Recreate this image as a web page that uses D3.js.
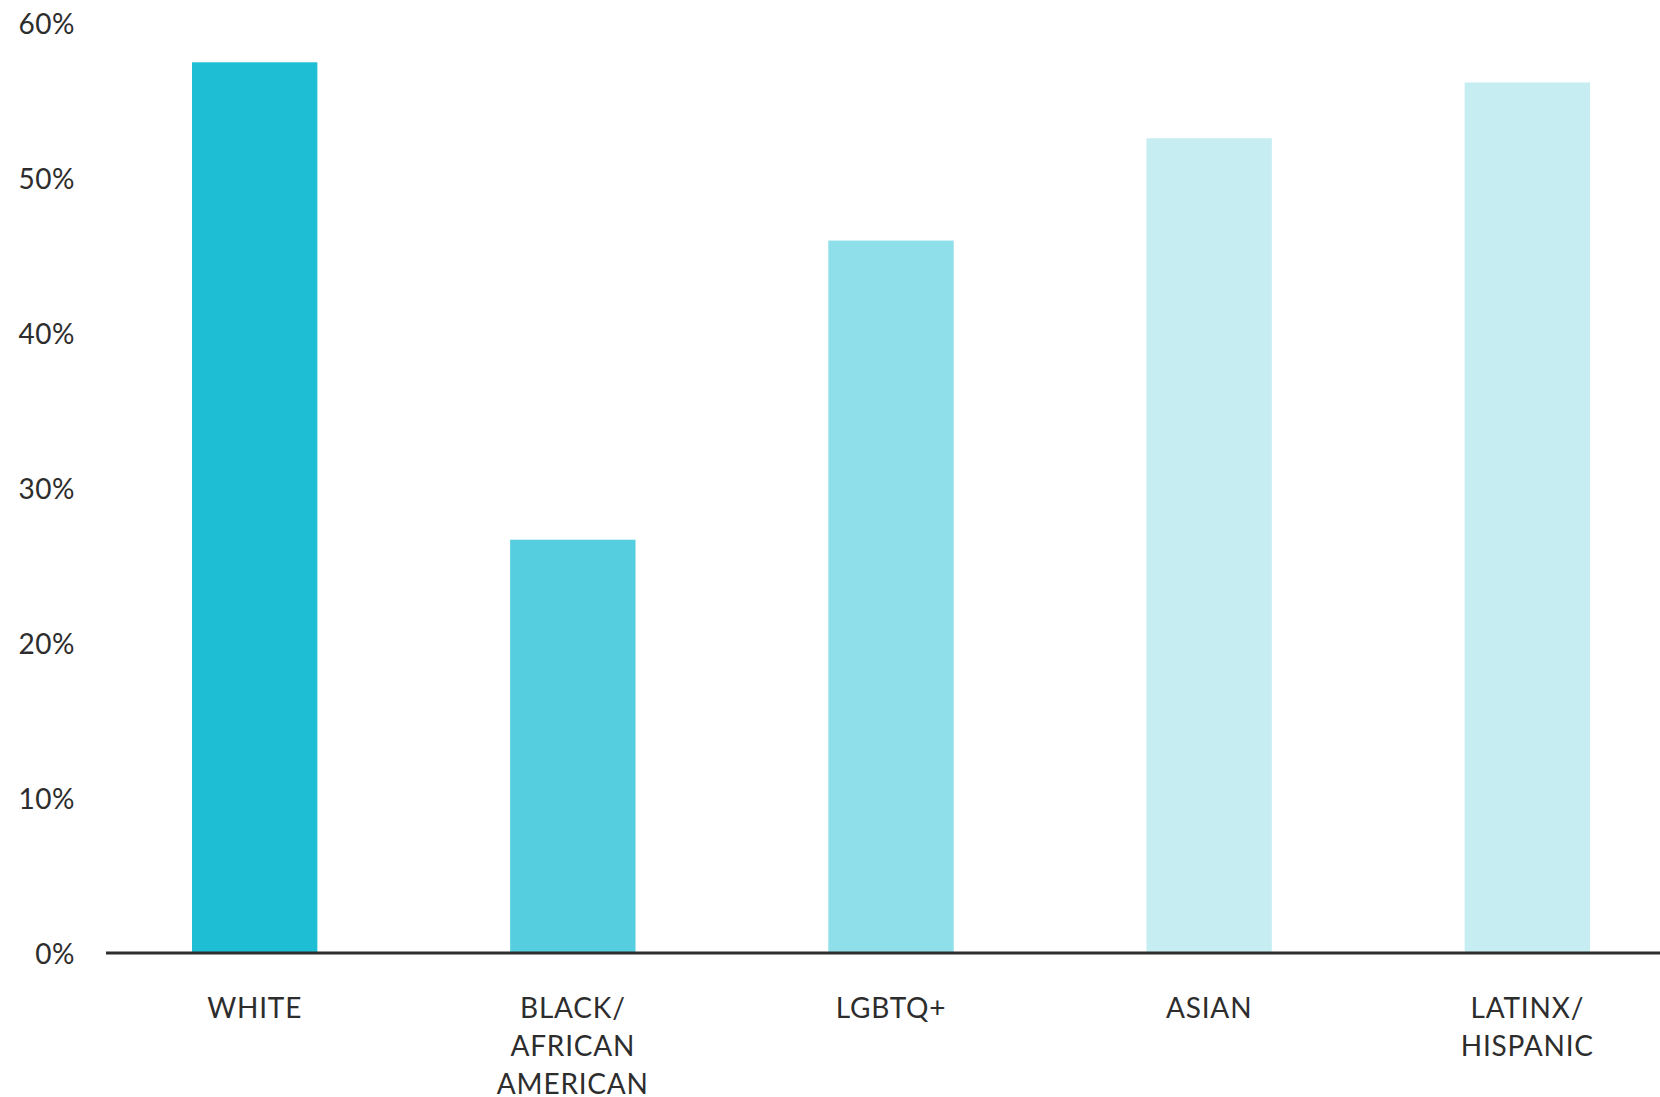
<!DOCTYPE html>
<html>
<head>
    <meta charset="utf-8">
    <title>Bar chart</title>
    <script src="https://d3js.org/d3.v7.min.js"></script>
    <style>
        body { margin: 0; background: #fff; }
        svg text { font-family: Lato, "Open Sans", sans-serif; fill: #2d2d2d; }
    </style>
</head>
<body>
    <div id="chart"></div>
    <script>
        // datos
        const categorias = ["WHITE", "BLACK/ AFRICAN AMERICAN", "LGBTQ+", "ASIAN", "LATINX/ HISPANIC"]
        const etiquetas = [["WHITE"], ["BLACK/", "AFRICAN", "AMERICAN"], ["LGBTQ+"], ["ASIAN"], ["LATINX/", "HISPANIC"]]
        const valores = [57.4, 26.6, 45.9, 52.5, 56.1]
        const colores = ["#1ebfd5", "#55cfdf", "#8edfea", "#c6eef2", "#c6eef2"]
        const ticksY = [0, 10, 20, 30, 40, 50, 60]

        const width = 1660
        const height = 1097

        const svg = d3.select("#chart")
            .append("svg")
            .attr("width", width)
            .attr("height", height)

        // escalas
        const x = d3.scaleBand()
            .domain(categorias)
            .range([192, 1590])
            .paddingInner(0.606)
            .paddingOuter(0)

        const y = d3.scaleLinear()
            .domain([0, 60])
            .range([952, 22])

        // barras
        svg.selectAll("rect.bar")
            .data(valores)
            .enter()
            .append("rect")
            .attr("class", "bar")
            .attr("x", (d, i) => x(categorias[i]))
            .attr("y", d => y(d))
            .attr("width", x.bandwidth())
            .attr("height", d => y(0) - y(d))
            .attr("fill", (d, i) => colores[i])

        // eje Y (solo etiquetas)
        const ejeY = svg.append("g")
            .attr("transform", "translate(75,3)")
            .call(d3.axisLeft(y).tickValues(ticksY).tickFormat(d => d + "%").tickSize(0).tickPadding(0))
        ejeY.select(".domain").remove()
        ejeY.selectAll("text")
            .style("font-size", "28px")
            .style("letter-spacing", "0.5px")
            .style("fill", "#2d2d2d")

        // linea base
        svg.append("line")
            .attr("x1", 106)
            .attr("x2", width)
            .attr("y1", y(0) + 1)
            .attr("y2", y(0) + 1)
            .attr("stroke", "#2d2d2d")
            .attr("stroke-width", 3)

        // etiquetas de categorias
        const lineas = svg.selectAll("text.cat")
            .data(etiquetas)
            .enter()
            .append("text")
            .attr("class", "cat")
            .attr("text-anchor", "middle")
            .style("font-size", "28px")
            .style("letter-spacing", "0.8px")

        lineas.selectAll("tspan")
            .data((d, i) => d.map(t => ({ t: t, i: i })))
            .enter()
            .append("tspan")
            .attr("x", d => x(categorias[d.i]) + x.bandwidth() / 2)
            .attr("y", (d, j) => 1018 + j * 38)
            .text(d => d.t)
    </script>
</body>
</html>
